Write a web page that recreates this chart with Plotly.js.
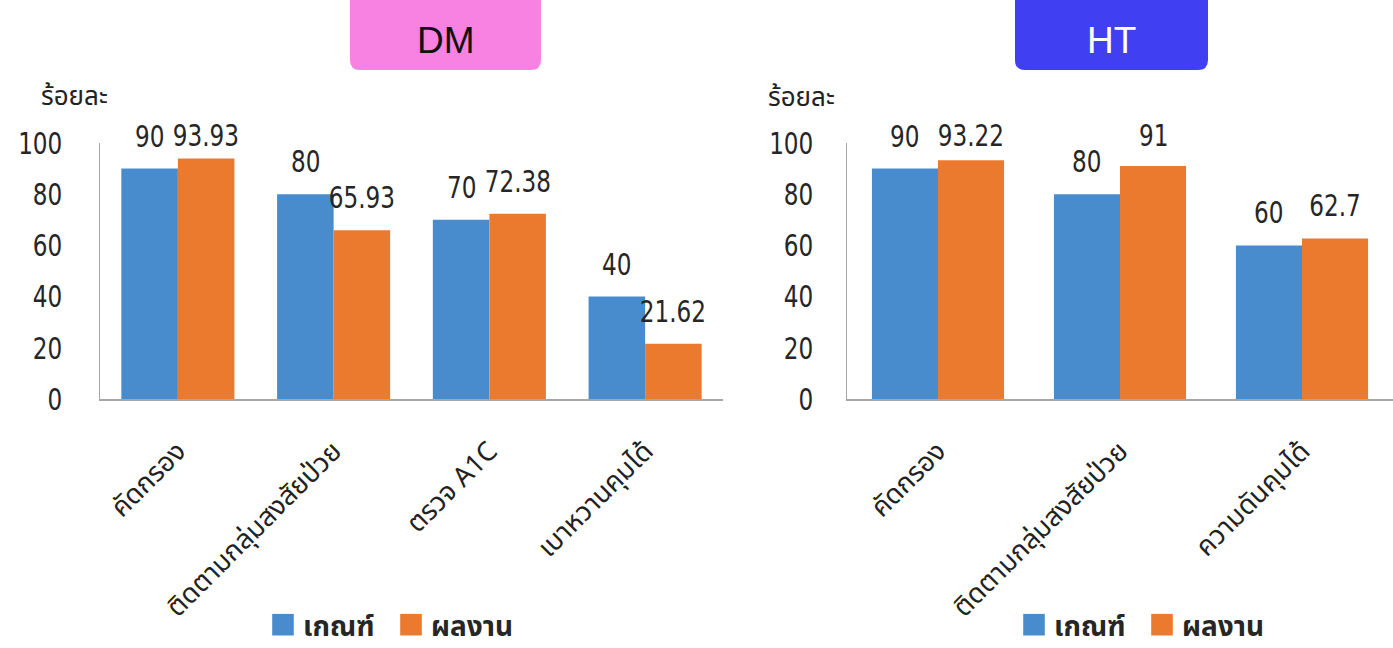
<!DOCTYPE html>
<html>
<head>
<meta charset="utf-8">
<script src="https://cdn.plot.ly/plotly-3.0.1.min.js"></script>
<style>
  html, body { margin: 0; padding: 0; background: #ffffff; }
  #chart { width: 1393px; height: 648px; }
</style>
</head>
<body>
<div id="chart"></div>
<script>
// Diabetes (DM) indicators
const dmCategories = ['คัดกรอง', 'ติดตามกลุ่มสงสัยป่วย', 'ตรวจ A1C', 'เบาหวานคุมได้'];
const dmTarget = [90, 80, 70, 40];
const dmResult = [93.93, 65.93, 72.38, 21.62];

// Hypertension (HT) indicators
const htCategories = ['คัดกรอง', 'ติดตามกลุ่มสงสัยป่วย', 'ความดันคุมได้'];
const htTarget = [90, 80, 60];
const htResult = [93.22, 91, 62.7];

const seriesNames = ['เกณฑ์', 'ผลงาน'];
const yTicks = [0, 20, 40, 60, 80, 100];
const panelTitles = ['DM', 'HT'];
const yAxisLabel = 'ร้อยละ';

const W = 1393, H = 648;
const BLUE = '#488CCE', ORANGE = '#EB7A2F';
const NUM_FONT = '"DejaVu Sans Condensed", "DejaVu Sans", sans-serif';
const THAI_FONT = '"Noto Sans Thai", "Noto Sans", "DejaVu Sans", sans-serif';
const BARGAP = 0.274;
const PLOT_TOP = 143, PLOT_BOTTOM = 399, Y_MAX = 100;
const NARROW = 0.83;
const px = x => x / W;            // pixel -> paper x
const py = y => (H - y) / H;      // pixel -> paper y (from top)

const traces = [
  { type: 'bar', name: seriesNames[0], x: dmCategories, y: dmTarget, xaxis: 'x', yaxis: 'y',
    marker: { color: BLUE }, legend: 'legend', hoverinfo: 'x+y' },
  { type: 'bar', name: seriesNames[1], x: dmCategories, y: dmResult, xaxis: 'x', yaxis: 'y',
    marker: { color: ORANGE }, legend: 'legend', hoverinfo: 'x+y' },
  { type: 'bar', name: seriesNames[0], x: htCategories, y: htTarget, xaxis: 'x2', yaxis: 'y2',
    marker: { color: BLUE }, legend: 'legend2', hoverinfo: 'x+y' },
  { type: 'bar', name: seriesNames[1], x: htCategories, y: htResult, xaxis: 'x2', yaxis: 'y2',
    marker: { color: ORANGE }, legend: 'legend2', hoverinfo: 'x+y' }
];

// value labels above each bar; tall bars keep their label below the top edge of the chart
const half = (1 - BARGAP) / 4;
const pxPerUnit = (PLOT_BOTTOM - PLOT_TOP) / Y_MAX;
function valueLabels(values, offset, xref, yref) {
  return values.map((v, i) => ({
    xref: xref, yref: yref, x: i + offset, y: v,
    yshift: Math.min(33, (Y_MAX - v) * pxPerUnit + 8),
    text: String(v), showarrow: false, xanchor: 'center', yanchor: 'middle',
    font: { family: NUM_FONT, size: 31, color: '#262626' }
  }));
}

// rounded title box as a path in paper coordinates
function roundedBox(x0, y0, x1, y1, r, color) {
  const rx = r / W, ry = r / H;
  const X0 = px(x0), X1 = px(x1), Ytop = py(y0), Ybot = py(y1);
  const path = `M${X0 + rx},${Ytop} L${X1 - rx},${Ytop} Q${X1},${Ytop} ${X1},${Ytop - ry} ` +
    `L${X1},${Ybot + ry} Q${X1},${Ybot} ${X1 - rx},${Ybot} L${X0 + rx},${Ybot} ` +
    `Q${X0},${Ybot} ${X0},${Ybot + ry} L${X0},${Ytop - ry} Q${X0},${Ytop} ${X0 + rx},${Ytop} Z`;
  return { type: 'path', xref: 'paper', yref: 'paper', path: path,
           fillcolor: color, line: { width: 0 }, layer: 'below' };
}

const xAxisBase = {
  type: 'category', showgrid: false, zeroline: false, showline: true,
  linecolor: '#A6A6A6', linewidth: 1.5, ticks: '', tickangle: -45,
  tickfont: { family: THAI_FONT, size: 27, color: '#222222' },
  ticklabelstandoff: 24, automargin: false
};
const yAxisBase = {
  range: [0, Y_MAX], tickvals: yTicks, showgrid: false, zeroline: false, showline: true,
  linecolor: '#A6A6A6', linewidth: 1.5, ticks: '',
  tickfont: { family: NUM_FONT, size: 31, color: '#262626' }, automargin: false
};
const yDomain = [py(PLOT_BOTTOM), py(PLOT_TOP)];

const annotations = [
  ...valueLabels(dmTarget, -half, 'x', 'y'),
  ...valueLabels(dmResult, half, 'x', 'y'),
  ...valueLabels(htTarget, -half, 'x2', 'y2'),
  ...valueLabels(htResult, half, 'x2', 'y2'),
  { xref: 'paper', yref: 'paper', x: px(446), y: py(40), text: panelTitles[0], showarrow: false,
    xanchor: 'center', yanchor: 'middle', font: { family: 'Liberation Sans, sans-serif', size: 37, color: '#111111' } },
  { xref: 'paper', yref: 'paper', x: px(1111), y: py(40), text: panelTitles[1], showarrow: false,
    xanchor: 'center', yanchor: 'middle', font: { family: 'Liberation Sans, sans-serif', size: 37, color: '#ffffff' } },
  { xref: 'paper', yref: 'paper', x: px(74), y: py(97), text: yAxisLabel, showarrow: false,
    xanchor: 'center', yanchor: 'middle', font: { family: THAI_FONT, size: 26, color: '#222222' } },
  { xref: 'paper', yref: 'paper', x: px(801), y: py(98), text: yAxisLabel, showarrow: false,
    xanchor: 'center', yanchor: 'middle', font: { family: THAI_FONT, size: 26, color: '#222222' } }
];

const legendBase = {
  orientation: 'h', xanchor: 'left', yanchor: 'middle', bgcolor: 'rgba(0,0,0,0)',
  font: { family: THAI_FONT, size: 28, color: '#262626', weight: 'bold' },
  entrywidth: 83, itemclick: false, itemdoubleclick: false
};

const layout = {
  width: W, height: H,
  margin: { l: 0, r: 0, t: 0, b: 0, autoexpand: false },
  paper_bgcolor: '#ffffff', plot_bgcolor: '#ffffff',
  barmode: 'group', bargap: BARGAP, bargroupgap: 0,
  xaxis: Object.assign({}, xAxisBase, { domain: [px(100), px(723)], anchor: 'y' }),
  yaxis: Object.assign({}, yAxisBase, { domain: yDomain, anchor: 'x', ticklabelstandoff: 30 }),
  xaxis2: Object.assign({}, xAxisBase, { domain: [px(847), 1], anchor: 'y2' }),
  yaxis2: Object.assign({}, yAxisBase, { domain: yDomain, anchor: 'x2', ticklabelstandoff: 26 }),
  showlegend: true,
  legend: Object.assign({}, legendBase, { x: px(263), y: py(625) }),
  legend2: Object.assign({}, legendBase, { x: px(1014), y: py(625) }),
  shapes: [
    roundedBox(350, -12, 541, 70, 10, '#F882E2'),
    roundedBox(1015, -12, 1208, 70, 10, '#4040F2')
  ],
  annotations: annotations
};

Plotly.newPlot('chart', traces, layout, { displayModeBar: false, staticPlot: true }).then(gd => {
  // larger legend swatches, keeping their own placement
  gd.querySelectorAll('.legendpoints path').forEach(p => {
    const t = p.getAttribute('transform') || '';
    p.setAttribute('transform', t + ' scale(1.8)');
  });
  // narrow numerals for the value labels
  gd.querySelectorAll('.annotation-text').forEach(t => {
    if (/^[0-9.]+$/.test(t.textContent.trim())) {
      t.style.transformBox = 'fill-box';
      t.style.transformOrigin = 'center';
      t.style.transform = `scaleX(${NARROW})`;
    }
  });
  // narrow numerals for the y tick labels, squeezed toward their right-hand anchor
  gd.querySelectorAll('.ytick text, .y2tick text').forEach(t => {
    const ax = parseFloat(t.getAttribute('x')) || 0;
    const base = t.getAttribute('transform') || '';
    t.setAttribute('transform', `${base} translate(${ax},0) scale(${NARROW},1) translate(${-ax},0)`);
  });
});
</script>
</body>
</html>
